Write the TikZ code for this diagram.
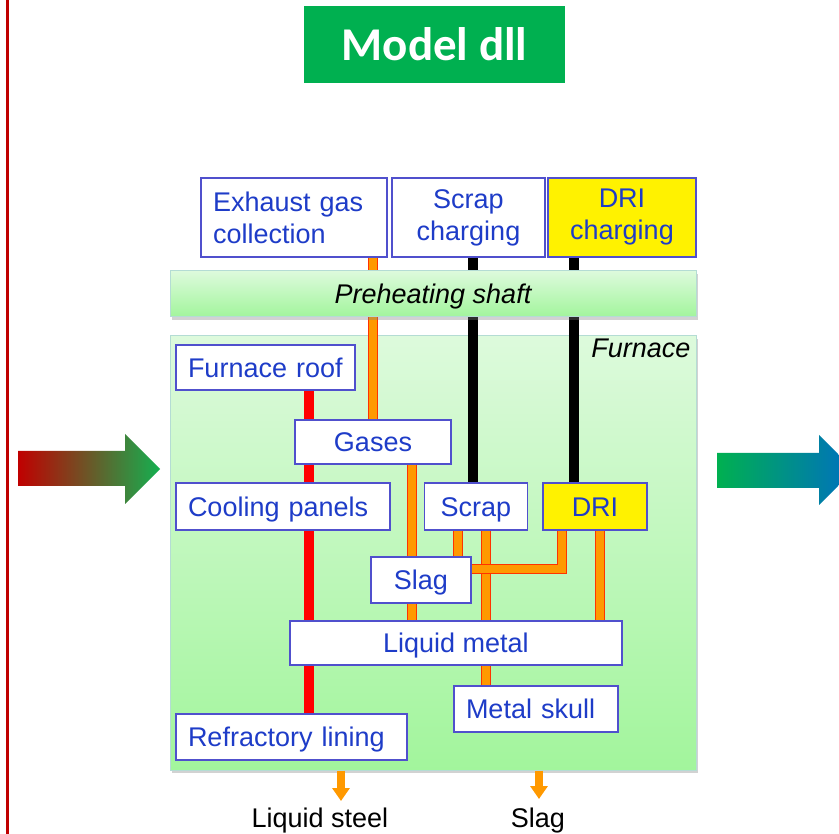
\documentclass[tikz,border=0pt]{standalone}
\usepackage{fontspec}
\setmainfont{Liberation Sans}
\newfontfamily\titlefont{Carlito}
\usetikzlibrary{shadows,arrows.meta}
\definecolor{leftred}{HTML}{C00000}
\definecolor{titlegreen}{HTML}{00B050}
\definecolor{boxborder}{RGB}{80,80,205}
\definecolor{boxtext}{RGB}{30,60,200}
\definecolor{pipeorange}{HTML}{FF9900}
\definecolor{pipered}{HTML}{FF3300}
\definecolor{bgtop}{HTML}{DDFADC}
\definecolor{bgbot}{HTML}{A2F59C}
\definecolor{bgborder}{HTML}{B4DCD4}
\definecolor{arrred}{HTML}{C00000}
\definecolor{arrgreen}{HTML}{14B050}
\definecolor{arrblue}{HTML}{0070C0}
\begin{document}
\begin{tikzpicture}[x=1pt,y=-1pt,
  box/.style={draw=boxborder, line width=1.2pt, fill=white, text=boxtext,
    font=\fontsize{27}{32}\selectfont, inner xsep=12pt, inner ysep=0pt},
  ybox/.style={box, fill=yellow},
  oneline/.style={text height=19.5pt, text depth=0pt},
  bgbox/.style={draw=bgborder, line width=1pt, top color=bgtop, bottom color=bgbot,
    drop shadow={shadow xshift=2pt, shadow yshift=-3pt, opacity=0.35}},
  pipe/.style={draw=pipered, line width=0.9pt, double=pipeorange, double distance=8.6pt},
  blackline/.style={draw=black, line width=10pt},
  redline/.style={draw=red, line width=10pt},
  outarrow/.style={draw=pipeorange, line width=8.5pt, -{Triangle[width=17pt,length=13pt]}},
  outlabel/.style={font=\fontsize{27}{32}\selectfont, text=black, anchor=base, inner sep=0pt}
]
\useasboundingbox (0,0) rectangle (839,834);
\clip (0,0) rectangle (839,834);
\fill[white] (0,0) rectangle (839,834);
\draw[leftred, line width=2.6pt] (7.5,0) -- (7.5,834);

% title
\node[fill=titlegreen, minimum width=261pt, minimum height=77pt, text=white,
  font=\titlefont\bfseries\fontsize{47}{50}\selectfont] (title) at (434.5,44.5) {Model dll};

% furnace background
\node[bgbox, minimum width=526pt, minimum height=434pt] (furnace) at (433,553) {};

% boxes (first pass fixes their names and places)
\path
  node[box, minimum width=186pt, minimum height=79pt, text width=162pt, align=left] (exhaust) at (294,217.5) {Exhaust gas\\collection}
  node[box, minimum width=153pt, minimum height=79pt, align=center] (scrapch) at (468.5,217.5) {Scrap\\charging}
  node[ybox, minimum width=148pt, minimum height=79pt, align=center] (drich) at (622,217.5) {DRI\\charging}
  node[box, oneline, minimum width=179pt, minimum height=45pt, text width=155pt, align=left] (roof) at (265.5,367.5) {\mbox{Furnace roof}}
  node[box, oneline, minimum width=156pt, minimum height=44pt] (gases) at (373,442) {Gases}
  node[box, oneline, minimum width=214pt, minimum height=47pt, text width=190pt, align=left] (cooling) at (283,506.5) {\mbox{Cooling panels}}
  node[box, oneline, minimum width=103pt, minimum height=47pt] (scrap) at (476,506.5) {Scrap}
  node[ybox, oneline, minimum width=104pt, minimum height=47pt] (dri) at (595,506.5) {DRI}
  node[box, oneline, minimum width=100pt, minimum height=46pt] (slag) at (421,580) {Slag}
  node[box, oneline, minimum width=332pt, minimum height=44pt] (liquid) at (456,643) {Liquid metal}
  node[box, oneline, minimum width=164pt, minimum height=46pt, text width=140pt, align=left] (skull) at (536,709) {\mbox{Metal skull}}
  node[box, oneline, minimum width=231pt, minimum height=46pt, text width=207pt, align=left] (refr) at (291.5,737) {\mbox{Refractory lining}};

% connectors
\draw[pipe] (373,0 |- exhaust.south) -- (373,0 |- gases.north);
\draw[blackline] (473,0 |- scrapch.south) -- (473,0 |- scrap.north);
\draw[blackline] (574,0 |- drich.south) -- (574,0 |- dri.north);
\draw[redline] (309,0 |- roof.south) -- (309,0 |- refr.north);
\draw[pipe] (412,0 |- gases.south) -- (412,0 |- liquid.north);
\draw[pipe] (458,0 |- scrap.south) -- (458,0 |- slag.north);
\draw[pipe] (486,0 |- scrap.south) -- (486,0 |- skull.north);
\draw[pipe] (600,0 |- dri.south) -- (600,0 |- liquid.north);
\draw[pipe] (562,0 |- dri.south) |- (slag.east |- 0,569);

% preheating shaft over the lines
\node[bgbox, oneline, minimum width=526pt, minimum height=46pt, font=\fontsize{27}{32}\selectfont\itshape] (preheat) at (433,294) {Preheating shaft};

% boxes drawn again on top of the connectors
\path
  node[box, minimum width=186pt, minimum height=79pt, text width=162pt, align=left] at (exhaust) {Exhaust gas\\collection}
  node[box, minimum width=153pt, minimum height=79pt, align=center] at (scrapch) {Scrap\\charging}
  node[ybox, minimum width=148pt, minimum height=79pt, align=center] at (drich) {DRI\\charging}
  node[box, oneline, minimum width=179pt, minimum height=45pt, text width=155pt, align=left] at (roof) {\mbox{Furnace roof}}
  node[box, oneline, minimum width=156pt, minimum height=44pt] at (gases) {Gases}
  node[box, oneline, minimum width=214pt, minimum height=47pt, text width=190pt, align=left] at (cooling) {\mbox{Cooling panels}}
  node[box, oneline, minimum width=103pt, minimum height=47pt] at (scrap) {Scrap}
  node[ybox, oneline, minimum width=104pt, minimum height=47pt] at (dri) {DRI}
  node[box, oneline, minimum width=100pt, minimum height=46pt] at (slag) {Slag}
  node[box, oneline, minimum width=332pt, minimum height=44pt] at (liquid) {Liquid metal}
  node[box, oneline, minimum width=164pt, minimum height=46pt, text width=140pt, align=left] at (skull) {\mbox{Metal skull}}
  node[box, oneline, minimum width=231pt, minimum height=46pt, text width=207pt, align=left] at (refr) {\mbox{Refractory lining}};

\node[font=\fontsize{27}{32}\selectfont\itshape, anchor=base east, inner sep=0pt] (furnlabel)
  at ([xshift=-6pt, yshift=-22pt]furnace.north east) {Furnace};

% outputs
\coordinate (steelend) at (341,801);
\coordinate (slagend) at (539,799);
\draw[outarrow] (341,0 |- furnace.south) -- (steelend);
\draw[outarrow] (539,0 |- furnace.south) -- (slagend);
\node[outlabel] (steellabel) at (320,827) {Liquid steel};
\node[outlabel] (slaglabel) at (538,827) {Slag};

% side arrows
\shade[left color=arrred, right color=arrgreen]
  (18,451) -- (125,451) -- (125,434) -- (160,469) -- (125,504) -- (125,486) -- (18,486) -- cycle;
\shade[left color=titlegreen, right color=arrblue]
  (717,453) -- (819,453) -- (819,435) -- (854,470) -- (819,505) -- (819,488) -- (717,488) -- cycle;
\end{tikzpicture}
\end{document}
